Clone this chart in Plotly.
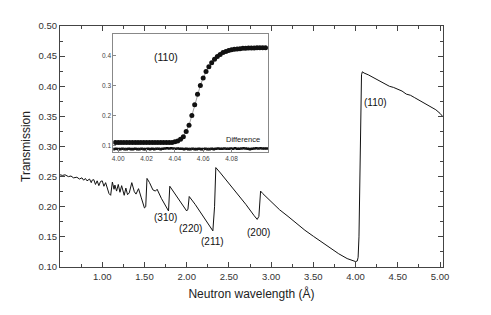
import numpy as np
import plotly.graph_objects as go

# ---- main spectrum (wavelength in Å, transmission) ----
wl = [0.50, 0.53, 0.56, 0.60, 0.63, 0.66, 0.70, 0.73, 0.76, 0.78, 0.80, 0.82, 0.85, 0.87, 0.88,
      0.90, 0.92, 0.94, 0.96, 0.98, 1.00, 1.02, 1.04, 1.06, 1.08, 1.10, 1.12, 1.14, 1.15, 1.17,
      1.19, 1.21, 1.23, 1.26, 1.28, 1.30, 1.32, 1.35, 1.38, 1.40, 1.43, 1.46, 1.50, 1.515, 1.53,
      1.56, 1.60, 1.63, 1.65, 1.70, 1.75, 1.785, 1.80, 1.85, 1.90, 1.95, 2.00, 2.015, 2.03,
      2.10, 2.20, 2.28, 2.31, 2.33, 2.345, 2.40, 2.50, 2.60, 2.70, 2.80, 2.835, 2.855, 2.875,
      2.90, 3.00, 3.10, 3.20, 3.30, 3.40, 3.50, 3.60, 3.70, 3.80, 3.90, 3.95, 4.00, 4.02, 4.03,
      4.04, 4.05, 4.06, 4.07, 4.08, 4.10, 4.15, 4.20, 4.25, 4.30, 4.35, 4.40, 4.45, 4.50, 4.55,
      4.60, 4.65, 4.70, 4.75, 4.80, 4.85, 4.90, 4.95, 5.00, 5.03]
trans = [0.253, 0.252, 0.253, 0.250, 0.251, 0.248, 0.249, 0.246, 0.248, 0.244, 0.247, 0.243, 0.246, 0.240, 0.244,
         0.245, 0.237, 0.243, 0.235, 0.242, 0.243, 0.234, 0.240, 0.231, 0.222, 0.219, 0.241, 0.229, 0.236, 0.226,
         0.237, 0.224, 0.235, 0.219, 0.231, 0.220, 0.223, 0.240, 0.225, 0.221, 0.230, 0.216, 0.198, 0.200, 0.247,
         0.240, 0.228, 0.226, 0.229, 0.214, 0.201, 0.193, 0.234, 0.224, 0.213, 0.202, 0.193, 0.196, 0.217,
         0.204, 0.184, 0.168, 0.160, 0.200, 0.265, 0.256, 0.239, 0.222, 0.204, 0.185, 0.179, 0.184, 0.226,
         0.222, 0.208, 0.195, 0.184, 0.172, 0.161, 0.151, 0.141, 0.131, 0.122, 0.114, 0.111, 0.109, 0.110, 0.116,
         0.150, 0.260, 0.380, 0.419, 0.424, 0.422, 0.419, 0.415, 0.411, 0.408, 0.403, 0.400, 0.398, 0.395, 0.392,
         0.387, 0.385, 0.381, 0.377, 0.373, 0.369, 0.366, 0.361, 0.355, 0.350]

# ---- inset: (110) edge measured points ----
inset_x = list(np.round(np.arange(3.998, 4.1041, 0.002), 3))
inset_y = [0.111] * 21 + [0.113, 0.116, 0.122, 0.130, 0.147, 0.168, 0.200, 0.236, 0.271, 0.300,
                          0.325, 0.346, 0.362, 0.375, 0.387, 0.396, 0.403, 0.409, 0.413, 0.416,
                          0.418, 0.420, 0.421, 0.422, 0.423, 0.423, 0.424, 0.424, 0.424, 0.425,
                          0.425, 0.425, 0.425]
# ---- inset: difference points ----
diff_x = list(np.round(np.arange(3.997, 4.1051, 0.0015), 4))
diff_y = [0.089, 0.090, 0.089, 0.089, 0.090, 0.089, 0.089, 0.090, 0.089, 0.089, 0.090, 0.089,
          0.089, 0.090, 0.089, 0.089, 0.090, 0.089, 0.090, 0.089, 0.090, 0.090, 0.089, 0.090,
          0.091, 0.092, 0.091, 0.092, 0.091, 0.090, 0.091, 0.090, 0.090, 0.089, 0.090, 0.089,
          0.089, 0.090, 0.089, 0.089, 0.090, 0.089, 0.089, 0.090, 0.089, 0.089, 0.090, 0.089,
          0.090, 0.091, 0.090, 0.090, 0.091, 0.090, 0.090, 0.091, 0.090, 0.092, 0.090, 0.090,
          0.091, 0.092, 0.091, 0.090, 0.089, 0.090, 0.091, 0.092, 0.091, 0.092, 0.091, 0.091,
          0.091][:len(diff_x)]

x_ticks = [1.0, 1.5, 2.0, 2.5, 3.0, 3.5, 4.0, 4.5, 5.0]
y_ticks = [0.10, 0.15, 0.20, 0.25, 0.30, 0.35, 0.40, 0.45, 0.50]
inset_xticks = [4.00, 4.02, 4.04, 4.06, 4.08]
inset_yticks = [0.1, 0.2, 0.3, 0.4]

reflections = ["(310)", "(220)", "(211)", "(200)", "(110)"]
refl_x = [1.75, 2.04, 2.31, 2.85, 4.24]
refl_y = [0.1815, 0.164, 0.142, 0.158, 0.373]

FONT = "Liberation Sans, Arial, sans-serif"
fig = go.Figure()
fig.add_trace(go.Scatter(x=wl, y=trans, mode="lines",
                         line=dict(color="#111", width=1), showlegend=False))
fig.add_trace(go.Scatter(x=inset_x, y=inset_y, mode="lines",
                         line=dict(color="#888", width=0.8), xaxis="x2", yaxis="y2", showlegend=False))
fig.add_trace(go.Scatter(x=inset_x, y=inset_y, mode="markers",
                         marker=dict(color="#111", size=5, line=dict(width=0)),
                         xaxis="x2", yaxis="y2", showlegend=False))
fig.add_trace(go.Scatter(x=diff_x, y=diff_y, mode="markers",
                         marker=dict(color="#111", size=2.6, symbol="square", line=dict(width=0)),
                         xaxis="x2", yaxis="y2", showlegend=False))

for t, xx, yy in zip(reflections, refl_x, refl_y):
    fig.add_annotation(x=xx, y=yy, text=t, showarrow=False, xref="x", yref="y",
                       font=dict(size=10, color="#111", family=FONT))
fig.add_annotation(x=4.034, y=0.3935, text="(110)", showarrow=False, xref="x2", yref="y2",
                   font=dict(size=10.5, color="#111", family=FONT))
fig.add_annotation(x=4.088, y=0.12, text="Difference", showarrow=False, xref="x2", yref="y2",
                   font=dict(size=7.5, color="#222", family=FONT))

axis_common = dict(showline=True, linecolor="#444", linewidth=1.2, mirror="allticks",
                   ticks="inside", ticklen=5, tickcolor="#444", tickwidth=1,
                   showgrid=False, zeroline=False,
                   tickfont=dict(size=9.5, color="#333", family=FONT))
fig.update_layout(
    width=483, height=307, autosize=False,
    margin=dict(l=52, r=48, t=12, b=48),
    paper_bgcolor="white", plot_bgcolor="white",
    font=dict(family=FONT),
    xaxis=dict(range=[0.5, 5.035], tickvals=x_ticks, ticktext=[f"{v:.2f}" for v in x_ticks],
               minor=dict(dtick=0.25, tick0=0, ticks="inside", ticklen=3, tickcolor="#444"),
               title=dict(text="Neutron wavelength (Å)", font=dict(size=12, color="#222"), standoff=9),
               **axis_common),
    yaxis=dict(range=[0.10, 0.50], tickvals=y_ticks, ticktext=[f"{v:.2f}" for v in y_ticks],
               minor=dict(dtick=0.025, tick0=0, ticks="inside", ticklen=3, tickcolor="#444"),
               title=dict(text="Transmission", font=dict(size=12, color="#222"), standoff=5),
               **axis_common),
    xaxis2=dict(domain=[0.139, 0.544], anchor="y2", range=[3.9965, 4.106],
                tickvals=inset_xticks, ticktext=[f"{v:.2f}" for v in inset_xticks],
                showline=True, linecolor="#888", linewidth=0.8, mirror=True,
                ticks="inside", ticklen=3, tickcolor="#888", showgrid=False, zeroline=False,
                tickfont=dict(size=6.5, color="#444", family=FONT)),
    yaxis2=dict(domain=[0.478, 0.966], anchor="x2", range=[0.08, 0.47],
                tickvals=inset_yticks, ticktext=[f"{v:.1f}" for v in inset_yticks],
                showline=True, linecolor="#888", linewidth=0.8, mirror=True,
                ticks="inside", ticklen=3, tickcolor="#888", showgrid=False, zeroline=False,
                tickfont=dict(size=6.5, color="#444", family=FONT)),
)
fig.write_html("out.html")
